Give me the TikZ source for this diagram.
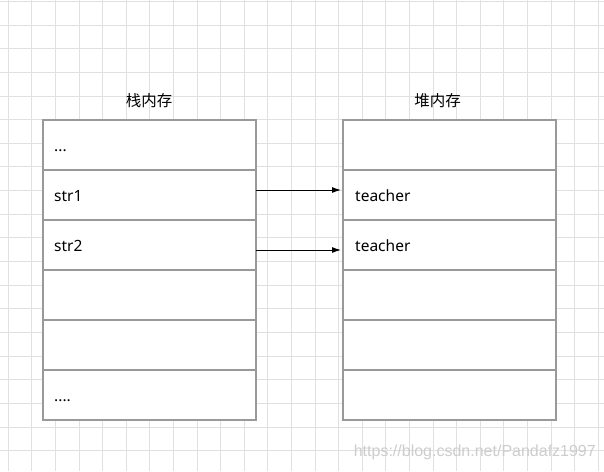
\documentclass[tikz,border=0pt]{standalone}
\usepackage{fontspec}
\usetikzlibrary{arrows.meta}
\setmainfont{Noto Sans}
\newfontfamily\cjk{Noto Sans CJK SC}
\newfontfamily\wm{Liberation Sans}
\definecolor{gridc}{RGB}{224,224,224}
\definecolor{boxc}{RGB}{153,153,153}
\definecolor{wmc}{RGB}{205,205,205}
\begin{document}
\begin{tikzpicture}[x=1pt,y=-1pt,
  cell/.style={draw=boxc,line width=1.2pt,fill=white,minimum width=213pt,minimum height=50pt,inner sep=0pt,outer sep=0pt,anchor=north west},
  lbl/.style={font=\fontsize{15.5}{18}\selectfont,anchor=base west,inner sep=0pt},
  title/.style={font=\cjk\fontsize{15.5}{18}\selectfont,inner sep=0pt},
  arr/.style={-{Latex[length=9pt,width=6pt]},line width=1pt,black}]
\useasboundingbox (0,0) rectangle (604,471);
\fill[white] (0,0) rectangle (604,471);
\foreach \i in {0,...,25} {\draw[gridc,line width=1pt] ({8.2+23.6*\i},0) -- ({8.2+23.6*\i},471);}
\foreach \j in {0,...,19} {\draw[gridc,line width=1pt] (0,{1.4+23.65*\j}) -- (604,{1.4+23.65*\j});}
\foreach \k in {0,...,5} {\node[cell] (L\k) at (43,{120+50*\k}) {};}
\foreach \k in {0,...,5} {\node[cell] (R\k) at (343,{120+50*\k}) {};}
\node[title] (tl) at (149,100.5) {栈内存};
\node[title] (tr) at (437.5,100.5) {堆内存};
\node[lbl] (l0) at (54,151.5) {...};
\node[lbl] (l1) at (54,201.5) {str1};
\node[lbl] (l2) at (54,251.5) {str2};
\node[lbl] (l5) at (54,401.5) {....};
\node[lbl] (r1) at (355,201.5) {teacher};
\node[lbl] (r2) at (355,251.5) {teacher};
\coordinate (a1) at (256,190);
\coordinate (b1) at (341,190);
\coordinate (a2) at (256,250);
\coordinate (b2) at (341,250);
\draw[arr] (a1) -- (b1);
\draw[arr] (a2) -- (b2);
\node[font=\wm\fontsize{16}{18}\selectfont,text=wmc,anchor=east,inner sep=0pt] (wm) at (596,452) {https://blog.csdn.net/Pandafz1997};
\end{tikzpicture}
\end{document}
